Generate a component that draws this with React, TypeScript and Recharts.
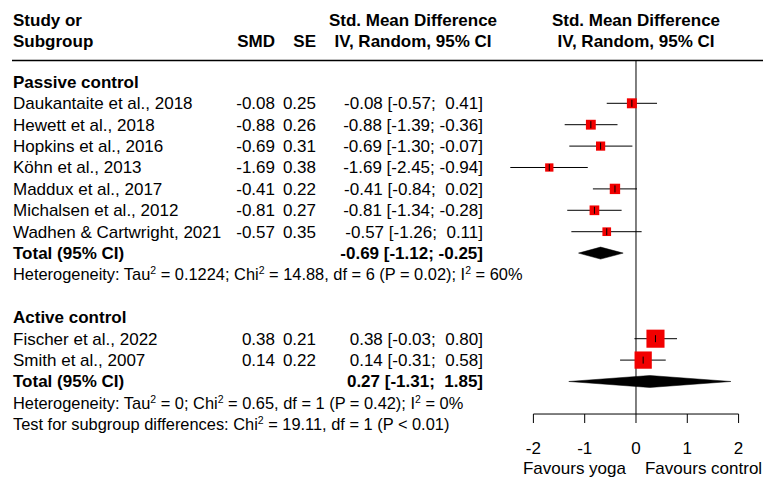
import React from "react";
import {
  ScatterChart,
  Scatter,
  XAxis,
  YAxis,
  ZAxis,
  ReferenceLine,
  ReferenceArea,
} from "recharts";

// ─── Data ─────────────────────────────────────────────────────────────────────

const passiveStudies = [
  "Daukantaite et al., 2018",
  "Hewett et al., 2018",
  "Hopkins et al., 2016",
  "Köhn et al., 2013",
  "Maddux et al., 2017",
  "Michalsen et al., 2012",
  "Wadhen & Cartwright, 2021",
];
const passiveSmd = [-0.08, -0.88, -0.69, -1.69, -0.41, -0.81, -0.57];
const passiveSe = [0.25, 0.26, 0.31, 0.38, 0.22, 0.27, 0.35];
const passiveLower = [-0.57, -1.39, -1.3, -2.45, -0.84, -1.34, -1.26];
const passiveUpper = [0.41, -0.36, -0.07, -0.94, 0.02, -0.28, 0.11];
// weight within subgroup (%), estimated from the square sizes
const passiveWeight = [15.9, 15.5, 13.5, 11.0, 17.2, 15.0, 12.0];

const activeStudies = ["Fischer et al., 2022", "Smith et al., 2007"];
const activeSmd = [0.38, 0.14];
const activeSe = [0.21, 0.22];
const activeLower = [-0.03, -0.31];
const activeUpper = [0.8, 0.58];
const activeWeight = [52.3, 47.7];

const passiveTotal = { est: -0.69, lo: -1.12, hi: -0.25 };
const activeTotal = { est: 0.27, lo: -1.31, hi: 1.85 };

const passiveHet = "Heterogeneity: Tau^2 = 0.1224; Chi^2 = 14.88, df = 6 (P = 0.02); I^2 = 60%";
const activeHet = "Heterogeneity: Tau^2 = 0; Chi^2 = 0.65, df = 1 (P = 0.42); I^2 = 0%";
const subgroupTest = "Test for subgroup differences: Chi^2 = 19.11, df = 1 (P < 0.01)";

const axisTicks = [-2, -1, 0, 1, 2];
const leftLabel = "Favours yoga";
const rightLabel = "Favours control";

// ─── Layout ───────────────────────────────────────────────────────────────────

const FONT = "'Liberation Sans', Arial, Helvetica, sans-serif";
const SQUARE_RED = "#f20000";
const NOTE_SIZE = 16.4;
const X_DOMAIN: [number, number] = [-12.164, 2.476];
const Y_DOMAIN: [number, number] = [-2.827, 17.547];
const AXIS_ROW = 16.52;
const TICK_DROP = 0.42;
const DIAMOND_HALF = 0.28;

const COL_STUDY = 13;
const COL_SMD = 275;
const COL_SE = 316;
const COL_CI_END = 483;
const COL_CI_MID = 413;

// ─── Helpers ──────────────────────────────────────────────────────────────────

const fmt = (v: number) => v.toFixed(2);
const fmtCi = (est: number, lo: number, hi: number) =>
  `${fmt(est)} [${fmt(lo)}; ${hi >= 0 ? " " : ""}${fmt(hi)}]`;

type Kind = "head1" | "head2" | "group" | "study" | "total" | "note";
interface TableRow {
  x: number;
  y: number;
  kind: Kind;
  label: string;
  smd?: string;
  se?: string;
  ci?: string;
}
interface StudyPoint {
  x: number;
  y: number;
  z: number;
  lo: number;
  hi: number;
}

const tableRows: TableRow[] = [
  { x: 0, y: -1.9, kind: "head1", label: "Study or" },
  { x: 0, y: -0.9, kind: "head2", label: "Subgroup" },
];
const studyPoints: StudyPoint[] = [];
const totals: { row: number; est: number; lo: number; hi: number }[] = [];

function addGroup(
  title: string,
  startRow: number,
  names: string[],
  smd: number[],
  se: number[],
  lower: number[],
  upper: number[],
  weight: number[],
  total: { est: number; lo: number; hi: number },
  het: string
) {
  let r = startRow;
  tableRows.push({ x: 0, y: r, kind: "group", label: title });
  names.forEach((name, i) => {
    r += 1;
    tableRows.push({
      x: 0,
      y: r,
      kind: "study",
      label: name,
      smd: fmt(smd[i]),
      se: fmt(se[i]),
      ci: fmtCi(smd[i], lower[i], upper[i]),
    });
    studyPoints.push({ x: smd[i], y: r, z: weight[i], lo: lower[i], hi: upper[i] });
  });
  r += 1;
  tableRows.push({ x: 0, y: r, kind: "total", label: "Total (95% CI)", ci: fmtCi(total.est, total.lo, total.hi) });
  totals.push({ row: r, ...total });
  r += 1;
  tableRows.push({ x: 0, y: r, kind: "note", label: het });
  return r;
}

const passiveEnd = addGroup(
  "Passive control", 1, passiveStudies, passiveSmd, passiveSe,
  passiveLower, passiveUpper, passiveWeight, passiveTotal, passiveHet
);
const activeEnd = addGroup(
  "Active control", passiveEnd + 2, activeStudies, activeSmd, activeSe,
  activeLower, activeUpper, activeWeight, activeTotal, activeHet
);
tableRows.push({ x: 0, y: activeEnd + 1, kind: "note", label: subgroupTest });

// text with "^2" markers -> superscripts
function NoteText({ text, x, y }: { text: string; x: number; y: number }) {
  const parts = text.split("^2");
  return (
    <text x={x} y={y + NOTE_SIZE * 0.35} fontSize={NOTE_SIZE} fontFamily={FONT} fill="#000">
      {parts.map((p, i) => (
        <React.Fragment key={i}>
          <tspan dy={i === 0 ? 0 : 6} fontSize={NOTE_SIZE}>{p}</tspan>
          {i < parts.length - 1 && (
            <tspan dy={-6} fontSize={10.5}>2</tspan>
          )}
        </React.Fragment>
      ))}
    </text>
  );
}

// ─── Shapes ───────────────────────────────────────────────────────────────────

function TableRowShape(props: any) {
  const { cx, cy, payload } = props;
  const row = payload as TableRow;
  const base = { fontFamily: FONT, fill: "#000", dy: "0.35em", style: { whiteSpace: "pre" as const } };

  if (row.kind === "head1" || row.kind === "head2") {
    const top = row.kind === "head1";
    return (
      <g fontWeight="bold" fontSize={17}>
        <text {...base} x={COL_STUDY} y={cy}>{row.label}</text>
        {!top && <text {...base} x={COL_SMD} y={cy} textAnchor="end">SMD</text>}
        {!top && <text {...base} x={COL_SE} y={cy} textAnchor="end">SE</text>}
        <text {...base} x={COL_CI_MID} y={cy} textAnchor="middle">
          {top ? "Std. Mean Difference" : "IV, Random, 95% CI"}
        </text>
        <text {...base} x={cx} y={cy} textAnchor="middle">
          {top ? "Std. Mean Difference" : "IV, Random, 95% CI"}
        </text>
      </g>
    );
  }
  if (row.kind === "group") {
    return (
      <text {...base} x={COL_STUDY} y={cy} fontSize={17} fontWeight="bold">{row.label}</text>
    );
  }
  if (row.kind === "study") {
    return (
      <g fontSize={17}>
        <text {...base} x={COL_STUDY} y={cy}>{row.label}</text>
        <text {...base} x={COL_SMD} y={cy} textAnchor="end">{row.smd}</text>
        <text {...base} x={COL_SE} y={cy} textAnchor="end">{row.se}</text>
        <text {...base} x={COL_CI_END} y={cy} textAnchor="end">{row.ci}</text>
      </g>
    );
  }
  if (row.kind === "total") {
    return (
      <g fontSize={17} fontWeight="bold">
        <text {...base} x={COL_STUDY} y={cy}>{row.label}</text>
        <text {...base} x={COL_CI_END} y={cy} textAnchor="end">{row.ci}</text>
      </g>
    );
  }
  return <NoteText text={row.label} x={COL_STUDY} y={cy} />;
}

function StudyMark(props: any) {
  const { cx, cy, size, payload } = props;
  const side = typeof size === "number" && size > 0 ? Math.sqrt(size) : 2.5 * Math.sqrt(payload.z);
  return (
    <g>
      <rect x={cx - side / 2} y={cy - side / 2} width={side} height={side} fill={SQUARE_RED} />
      <line x1={cx} x2={cx} y1={cy - 3.5} y2={cy + 3.5} stroke="#000" strokeWidth={1} />
    </g>
  );
}

function makeDiamond(est: number, lo: number, hi: number) {
  return (props: any) => {
    const { x, y, width, height } = props;
    const peak = x + (width * (est - lo)) / (hi - lo);
    const mid = y + height / 2;
    const pts = `${x},${mid} ${peak},${y} ${x + width},${mid} ${peak},${y + height}`;
    return <polygon points={pts} fill="#000" stroke="#000" strokeWidth={0.5} />;
  };
}

function AxisTick({ x, y, payload }: any) {
  const v = payload.value as number;
  return (
    <g fontFamily={FONT} fontSize={17} fill="#000">
      <text x={x} y={y} dy="0.71em" textAnchor="middle" fill="#000">{String(v)}</text>
      {v === 0 && (
        <>
          <text x={x - 10} y={y + 20} dy="0.71em" textAnchor="end" fill="#000">{leftLabel}</text>
          <text x={x + 9} y={y + 20} dy="0.71em" textAnchor="start" fill="#000">{rightLabel}</text>
        </>
      )}
    </g>
  );
}

// ─── Component ────────────────────────────────────────────────────────────────

export default function App() {
  return (
    <div style={{ position: "absolute", left: 0, top: 0, background: "#fff" }}>
      <ScatterChart width={763} height={479} margin={{ top: 0, right: 0, bottom: 0, left: 12 }}>
        <XAxis
          type="number"
          dataKey="x"
          domain={X_DOMAIN}
          ticks={axisTicks}
          interval={0}
          axisLine={false}
          tickLine={false}
          tickSize={0}
          tickMargin={6}
          height={43}
          tick={<AxisTick />}
        />
        <YAxis type="number" dataKey="y" domain={Y_DOMAIN} reversed hide />
        <ZAxis type="number" dataKey="z" domain={[0, 100]} range={[0, 625]} />

        {/* header rule */}
        <ReferenceLine y={0} stroke="#000" strokeWidth={1.3} />
        {/* line of no effect */}
        <ReferenceLine segment={[{ x: 0, y: 0 }, { x: 0, y: AXIS_ROW }]} stroke="#000" strokeWidth={1} />
        {/* x axis with ticks */}
        <ReferenceLine
          segment={[{ x: axisTicks[0], y: AXIS_ROW }, { x: axisTicks[axisTicks.length - 1], y: AXIS_ROW }]}
          stroke="#000"
          strokeWidth={1}
        />
        {axisTicks.map((t) => (
          <ReferenceLine
            key={t}
            segment={[{ x: t, y: AXIS_ROW }, { x: t, y: AXIS_ROW + TICK_DROP }]}
            stroke="#000"
            strokeWidth={1}
          />
        ))}

        {/* study confidence intervals */}
        {studyPoints.map((p) => (
          <ReferenceLine
            key={`ci-${p.y}`}
            segment={[{ x: p.lo, y: p.y }, { x: p.hi, y: p.y }]}
            stroke="#000"
            strokeWidth={1}
          />
        ))}

        {/* pooled diamonds */}
        {totals.map((t) => (
          <ReferenceArea
            key={t.row}
            x1={t.lo}
            x2={t.hi}
            y1={t.row - DIAMOND_HALF}
            y2={t.row + DIAMOND_HALF}
            shape={makeDiamond(t.est, t.lo, t.hi)}
          />
        ))}

        <Scatter data={tableRows} shape={TableRowShape} isAnimationActive={false} />
        <Scatter data={studyPoints} shape={StudyMark} isAnimationActive={false} />
      </ScatterChart>
    </div>
  );
}
